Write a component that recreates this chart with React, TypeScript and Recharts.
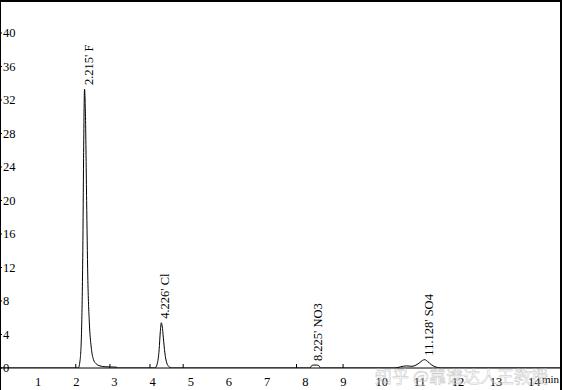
import {
  ComposedChart,
  Line,
  Scatter,
  XAxis,
  YAxis,
} from "recharts";

// chromatogram trace, minutes vs signal
const traceTime = [
  0, 2.05, 2.1, 2.14, 2.17, 2.19, 2.215, 2.24, 2.27, 2.3, 2.34, 2.39, 2.45, 2.52, 2.62, 2.75, 3.05, 3.1,
  4.06, 4.12, 4.17, 4.2, 4.226, 4.25, 4.28, 4.32, 4.37, 4.43, 4.5,
  8.12, 8.17, 8.22, 8.3, 8.35, 8.4,
  10.35, 10.5, 10.65, 10.8, 10.9, 11.0, 11.07, 11.128, 11.2, 11.3, 11.42, 11.55,
  14.7,
];
const traceSignal = [
  0, 0, 1, 5, 14, 25, 33.3, 30, 20, 11, 5.5, 2.5, 1.0, 0.5, 0.25, 0.15, 0.1, 0,
  0, 0.5, 2.2, 4.3, 5.4, 5.0, 3.6, 1.8, 0.6, 0.15, 0,
  0, 0.3, 0.35, 0.35, 0.3, 0,
  0, 0.15, 0.25, 0.2, 0.35, 0.65, 0.9, 1.0, 0.8, 0.4, 0.12, 0,
  0,
];

const peakTimes = [2.215, 4.226, 8.225, 11.128];
const peakHeights = [33.3, 5.4, 0.35, 1.0];
const peakNames = ["2.215' F", "4.226' Cl", "8.225' NO3", "11.128' SO4"];

// integration start/end markers on the baseline
const markerTimes = [1.985, 2.88, 3.93, 4.8, 7.77, 8.99];

const xTicks = [1, 2, 3, 4, 5, 6, 7, 8, 9, 10, 11, 12, 13, 14];
const yTicks = [0, 4, 8, 12, 16, 20, 24, 28, 32, 36, 40];

const trace = traceTime.map((t, i) => ({ t, v: traceSignal[i] }));
const peaks = peakTimes.map((t, i) => ({ t, v: peakHeights[i], name: peakNames[i] }));
const markers = markerTimes.map((t) => ({ t, v: 0 }));

const serif = "'Liberation Serif', 'Times New Roman', serif";

function PeakLabel(props: any) {
  const { cx, cy, payload } = props;
  const x = cx + 8;
  const y = cy - 4;
  return (
    <text
      x={x}
      y={y}
      transform={`rotate(-90 ${x} ${y})`}
      textAnchor="start"
      fontFamily={serif}
      fontSize={12.5}
      fill="#000"
    >
      {payload.name}
    </text>
  );
}

function Marker(props: any) {
  const { cx, cy } = props;
  return <line x1={cx} x2={cx} y1={cy - 4} y2={cy + 4} stroke="#000" strokeWidth={1} />;
}

export default function App() {
  return (
    <div style={{ position: "absolute", left: 0, top: 0, width: 563, height: 390, background: "#fff" }}>
      <ComposedChart width={563} height={390} data={trace} margin={{ top: 2, right: 2, bottom: 0, left: 0 }}>
        <XAxis
          dataKey="t"
          type="number"
          domain={[0, 14.7]}
          ticks={xTicks}
          tickLine={false}
          tickMargin={3}
          height={22}
          axisLine={{ stroke: "#000" }}
          tick={{ fill: "#000", fontSize: 12.5, fontFamily: serif }}
          allowDataOverflow
        />
        <YAxis
          type="number"
          domain={[0, 43.7]}
          ticks={yTicks}
          mirror
          tickSize={2}
          tickMargin={1}
          axisLine={{ stroke: "#000" }}
          tickLine={{ stroke: "#000" }}
          tick={{ fill: "#000", fontSize: 12.5, fontFamily: serif }}
          allowDataOverflow
        />
        <Line
          dataKey="v"
          type="monotone"
          stroke="#000"
          strokeWidth={1}
          dot={false}
          isAnimationActive={false}
        />
        <Scatter data={markers} dataKey="v" shape={Marker} isAnimationActive={false} />
        <Scatter data={peaks} dataKey="v" shape={PeakLabel} isAnimationActive={false} />
      </ComposedChart>
      <svg
        width={563}
        height={390}
        style={{ position: "absolute", left: 0, top: 0, pointerEvents: "none" }}
      >
        <text x={542} y={383} fontFamily={serif} fontSize={11} fill="#000">
          min
        </text>
        <text
          x={375}
          y={383}
          fontFamily="'Noto Sans CJK SC', sans-serif"
          fontSize={17}
          fill="#fff"
          fillOpacity={0.35}
          stroke="#a8a8a8"
          strokeWidth={0.5}
          strokeOpacity={0.7}
        >
          知乎 @靠谱达人王教授
        </text>
      </svg>
      <div
        style={{
          position: "absolute",
          left: 0,
          top: 0,
          width: 562,
          height: 390,
          boxSizing: "border-box",
          borderTop: "2px solid #000",
          borderRight: "2px solid #000",
          borderLeft: "1px solid #000",
          pointerEvents: "none",
        }}
      />
    </div>
  );
}
